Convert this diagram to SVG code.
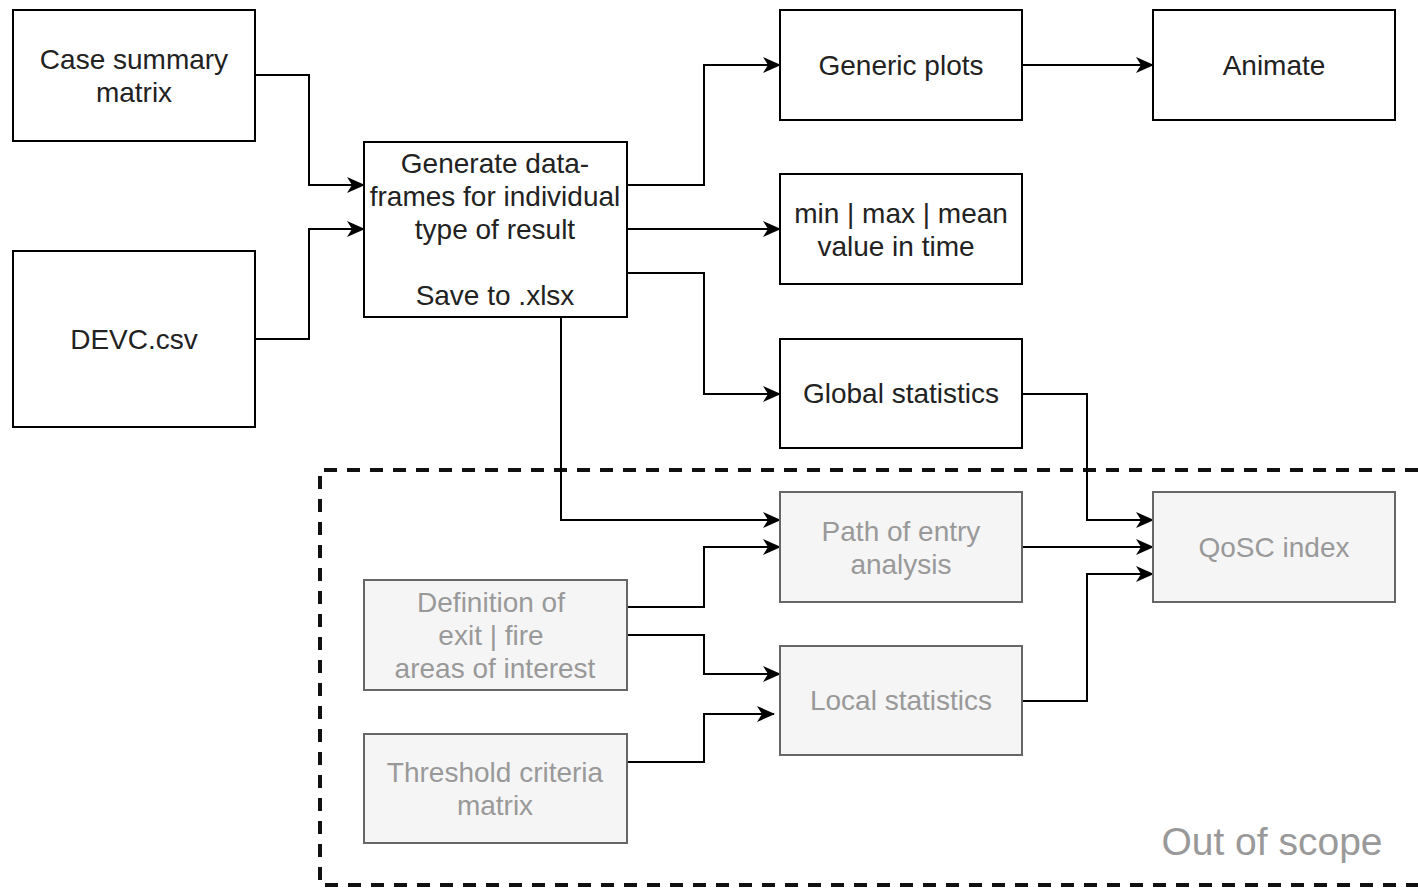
<svg xmlns="http://www.w3.org/2000/svg" width="1418" height="889" viewBox="0 0 1418 889">
<style>
.box{fill:#ffffff;stroke:#000000;stroke-width:2}
.gbox{fill:#f5f5f5;stroke:#666666;stroke-width:2}
.t{font-family:"Liberation Sans",Arial,sans-serif;font-size:28px;fill:#222222;text-anchor:middle}
.gt{font-family:"Liberation Sans",Arial,sans-serif;font-size:28px;fill:#999999;text-anchor:middle}
.c{fill:none;stroke:#000000;stroke-width:2}
</style>
<defs>
<marker id="arr" viewBox="0 0 18 16" refX="17" refY="8" markerWidth="18" markerHeight="16" markerUnits="userSpaceOnUse" orient="auto">
<path d="M0,0 L18,8 L0,16 L5,8 Z" fill="#000000"/>
</marker>
</defs>
<rect x="0" y="0" width="1418" height="889" fill="#ffffff"/>
<g id="scope">
<path d="M1418,470 L320,470 L320,885 L1418,885" fill="none" stroke="#111111" stroke-width="4" stroke-dasharray="13,10"/>
<text x="1272" y="855" font-family="Liberation Sans,Arial,sans-serif" font-size="39" fill="#999999" text-anchor="middle">Out of scope</text>
</g>
<g id="connectors">
<path class="c" d="M255,75 H309 V185 H364" marker-end="url(#arr)"/>
<path class="c" d="M255,339 H309 V229 H364" marker-end="url(#arr)"/>
<path class="c" d="M627,185 H704 V65 H780" marker-end="url(#arr)"/>
<path class="c" d="M627,229 H780" marker-end="url(#arr)"/>
<path class="c" d="M627,273 H704 V394 H780" marker-end="url(#arr)"/>
<path class="c" d="M1022,65 H1153" marker-end="url(#arr)"/>
<path class="c" d="M561,317 V520 H780" marker-end="url(#arr)"/>
<path class="c" d="M1022,394 H1087 V520 H1153" marker-end="url(#arr)"/>
<path class="c" d="M1022,547 H1153" marker-end="url(#arr)"/>
<path class="c" d="M1022,701 H1087 V574 H1153" marker-end="url(#arr)"/>
<path class="c" d="M627,607 H704 V547 H780" marker-end="url(#arr)"/>
<path class="c" d="M627,635 H704 V674 H780" marker-end="url(#arr)"/>
<path class="c" d="M627,762 H704 V714 H774" marker-end="url(#arr)"/>
</g>
<g id="case-summary">
<rect class="box" x="13" y="10" width="242" height="131"/>
<text class="t" x="134" y="69">Case summary</text>
<text class="t" x="134" y="102">matrix</text>
</g>
<g id="devc">
<rect class="box" x="13" y="251" width="242" height="176"/>
<text class="t" x="134" y="349">DEVC.csv</text>
</g>
<g id="generate">
<rect class="box" x="364" y="142" width="263" height="175"/>
<text class="t" x="495" y="173">Generate data-</text>
<text class="t" x="495" y="206">frames for individual</text>
<text class="t" x="495" y="239">type of result</text>
<text class="t" x="495" y="305">Save to .xlsx</text>
</g>
<g id="generic-plots">
<rect class="box" x="780" y="10" width="242" height="110"/>
<text class="t" x="901" y="75">Generic plots</text>
</g>
<g id="animate">
<rect class="box" x="1153" y="10" width="242" height="110"/>
<text class="t" x="1274" y="75">Animate</text>
</g>
<g id="minmax">
<rect class="box" x="780" y="174" width="242" height="110"/>
<text class="t" x="901" y="223">min | max | mean</text>
<text class="t" x="896" y="256">value in time</text>
</g>
<g id="global-stats">
<rect class="box" x="780" y="339" width="242" height="109"/>
<text class="t" x="901" y="403">Global statistics</text>
</g>
<g id="path-entry">
<rect class="gbox" x="780" y="492" width="242" height="110"/>
<text class="gt" x="901" y="541">Path of entry</text>
<text class="gt" x="901" y="574">analysis</text>
</g>
<g id="qosc">
<rect class="gbox" x="1153" y="492" width="242" height="110"/>
<text class="gt" x="1274" y="557">QoSC index</text>
</g>
<g id="definition">
<rect class="gbox" x="364" y="580" width="263" height="110"/>
<text class="gt" x="491" y="612">Definition of</text>
<text class="gt" x="491" y="645">exit | fire</text>
<text class="gt" x="495" y="678">areas of interest</text>
</g>
<g id="local-stats">
<rect class="gbox" x="780" y="646" width="242" height="109"/>
<text class="gt" x="901" y="710">Local statistics</text>
</g>
<g id="threshold">
<rect class="gbox" x="364" y="734" width="263" height="109"/>
<text class="gt" x="495" y="782">Threshold criteria</text>
<text class="gt" x="495" y="815">matrix</text>
</g>
</svg>
